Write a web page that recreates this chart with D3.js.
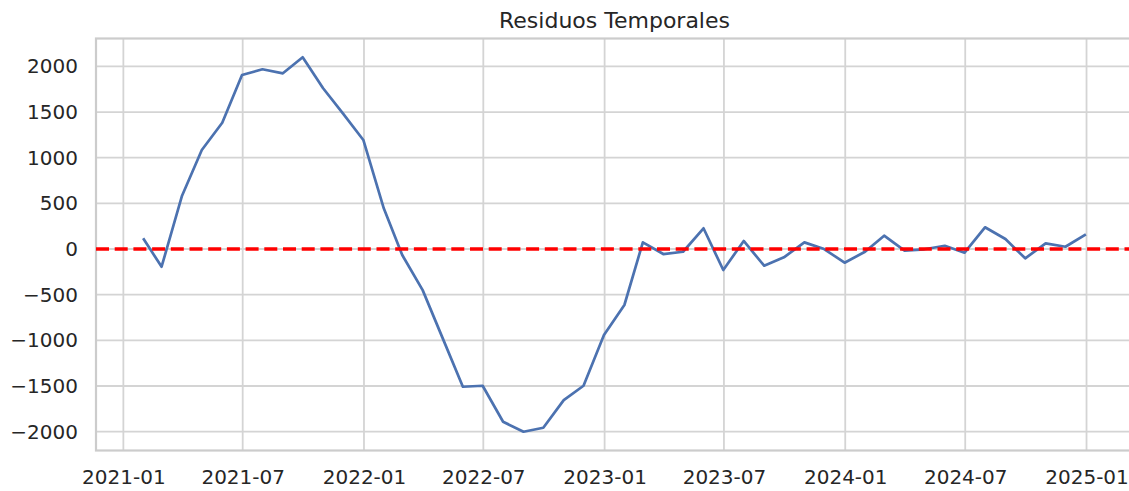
<!DOCTYPE html>
<html>
<head>
<meta charset="utf-8">
<script src="https://cdn.jsdelivr.net/npm/d3@7"></script>
<style>
    body { margin: 0; background: white; }
    svg { display: block; font-family: "DejaVu Sans", sans-serif; }
</style>
</head>
<body>
<div id="chart"></div>
<script>

// Month-end dates of the residual series
const months = ["2021-01-31", "2021-02-28", "2021-03-31", "2021-04-30", "2021-05-31", "2021-06-30",
    "2021-07-31", "2021-08-31", "2021-09-30", "2021-10-31", "2021-11-30", "2021-12-31",
    "2022-01-31", "2022-02-28", "2022-03-31", "2022-04-30", "2022-05-31", "2022-06-30",
    "2022-07-31", "2022-08-31", "2022-09-30", "2022-10-31", "2022-11-30", "2022-12-31",
    "2023-01-31", "2023-02-28", "2023-03-31", "2023-04-30", "2023-05-31", "2023-06-30",
    "2023-07-31", "2023-08-31", "2023-09-30", "2023-10-31", "2023-11-30", "2023-12-31",
    "2024-01-31", "2024-02-29", "2024-03-31", "2024-04-30", "2024-05-31", "2024-06-30",
    "2024-07-31", "2024-08-31", "2024-09-30", "2024-10-31", "2024-11-30", "2024-12-31"];

// Residual values
const residuals = [117, -194, 584, 1084, 1383, 1906,
    1968, 1924, 2100, 1760, 1486, 1194,
    446, -66, -450, -970, -1508, -1497,
    -1891, -2001, -1957, -1654, -1497, -942,
    -613, 73, -55, -30, 227, -230,
    88, -183, -91, 73, 0, -150,
    -30, 146, -18, -3, 36, -40,
    238, 110, -102, 62, 25, 161];

// Tick labels
const xTickLabels = ["2021-01", "2021-07", "2022-01", "2022-07", "2023-01", "2023-07", "2024-01", "2024-07", "2025-01"];
const yTickValues = [-2000, -1500, -1000, -500, 0, 500, 1000, 1500, 2000];

const chartTitle = "Residuos Temporales";

const parseDate = d3.timeParse("%Y-%m-%d");
const parseMonth = d3.timeParse("%Y-%m");

const data = months.map(function(m, i) {
    return {date: parseDate(m), value: residuals[i]};
});

var width = 1129,
    height = 491;

// plot area, right edge sits just past the picture like in the original
var plot = {left: 96, right: 1133, top: 38.5, bottom: 450.5};

var svg = d3.select("#chart")
    .append("svg")
    .attr("width", width)
    .attr("height", height)
    .style("background-color", "white");

// 5% margins around the data, the matplotlib way
var xExtent = d3.extent(data, d => d.date);
var xPad = (xExtent[1] - xExtent[0]) * 0.05;
var x = d3.scaleTime()
    .domain([new Date(+xExtent[0] - xPad), new Date(+xExtent[1] + xPad)])
    .range([plot.left, plot.right]);

var yExtent = d3.extent(data, d => d.value);
var yPad = (yExtent[1] - yExtent[0]) * 0.05;
var y = d3.scaleLinear()
    .domain([yExtent[0] - yPad, yExtent[1] + yPad])
    .range([plot.bottom, plot.top]);

var xTicks = xTickLabels.map(parseMonth);

// grid lines
svg.append("g")
    .selectAll("line")
    .data(yTickValues)
    .enter().append("line")
    .attr("x1", plot.left)
    .attr("x2", plot.right)
    .attr("y1", d => y(d))
    .attr("y2", d => y(d))
    .style("stroke", "#d4d4d4")
    .style("stroke-width", 1.8);

svg.append("g")
    .selectAll("line")
    .data(xTicks)
    .enter().append("line")
    .attr("x1", d => x(d))
    .attr("x2", d => x(d))
    .attr("y1", plot.top)
    .attr("y2", plot.bottom)
    .style("stroke", "#d4d4d4")
    .style("stroke-width", 1.8);

// spines
svg.append("rect")
    .attr("x", plot.left)
    .attr("y", plot.top)
    .attr("width", plot.right - plot.left)
    .attr("height", plot.bottom - plot.top)
    .style("fill", "none")
    .style("stroke", "#cccccc")
    .style("stroke-width", 2.2);

// axes, only the labels are kept
var xAxis = d3.axisBottom(x)
    .tickValues(xTicks)
    .tickFormat(d3.timeFormat("%Y-%m"))
    .tickSize(0)
    .tickPadding(19);

svg.append("g")
    .attr("transform", "translate(0," + plot.bottom + ")")
    .call(xAxis)
    .call(g => g.select(".domain").remove())
    .selectAll("text")
    .attr("fill", "#262626")
    .style("font-family", "DejaVu Sans")
    .style("font-size", "20px");

var yAxis = d3.axisLeft(y)
    .tickValues(yTickValues)
    .tickFormat(d => d < 0 ? "\u2212" + Math.abs(d) : String(d))
    .tickSize(0)
    .tickPadding(18);

svg.append("g")
    .attr("transform", "translate(" + plot.left + ",0)")
    .call(yAxis)
    .call(g => g.select(".domain").remove())
    .selectAll("text")
    .attr("fill", "#262626")
    .style("font-family", "DejaVu Sans")
    .style("font-size", "20px");

// clip the marks to the plot area
svg.append("clipPath")
    .attr("id", "clip")
    .append("rect")
    .attr("x", plot.left)
    .attr("y", plot.top)
    .attr("width", plot.right - plot.left)
    .attr("height", plot.bottom - plot.top);

// the residual line
var line = d3.line()
    .x(d => x(d.date))
    .y(d => y(d.value));

svg.append("path")
    .datum(data)
    .attr("clip-path", "url(#clip)")
    .attr("d", line)
    .style("fill", "none")
    .style("stroke", "#4c72b0")
    .style("stroke-width", 2.7)
    .style("stroke-linejoin", "round");

// zero reference line
svg.append("line")
    .attr("x1", plot.left)
    .attr("x2", plot.right)
    .attr("y1", y(0))
    .attr("y2", y(0))
    .style("stroke", "#ff0000")
    .style("stroke-width", 3.4)
    .style("stroke-dasharray", "13,5.7");

// title
svg.append("text")
    .attr("x", (plot.left + plot.right) / 2)
    .attr("y", 28)
    .attr("text-anchor", "middle")
    .attr("fill", "#262626")
    .style("font-family", "DejaVu Sans")
    .style("font-size", "22px")
    .text(chartTitle);

</script>
</body>
</html>
